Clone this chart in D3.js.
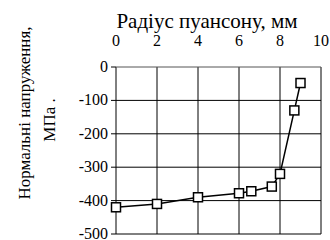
<!DOCTYPE html>
<html><head><meta charset="utf-8"><script src="https://cdn.jsdelivr.net/npm/d3@7"></script></head>
<body style="margin:0">
<script>
// punch radius, mm
const radius = [0, 2, 4, 6, 6.6, 7.6, 8, 8.7, 9];
// normal stress, MPa
const stress = [-420, -410, -390, -378, -372, -358, -320, -130, -48];
const xTicks = [0, 2, 4, 6, 8, 10];
const yTicks = [0, -100, -200, -300, -400, -500];

const width = 330, height = 240;
const margin = { top: 67, right: 9, bottom: 6, left: 116 };

const svg = d3.select('body').append('svg')
  .attr('width', width)
  .attr('height', height)
  .style('font-family', 'serif');

const x = d3.scaleLinear().domain([0, 10]).range([margin.left, width - margin.right]);
const y = d3.scaleLinear().domain([0, -500]).range([margin.top, height - margin.bottom]);

// grid
svg.append('g').selectAll('line')
  .data(xTicks)
  .join('line')
  .attr('x1', d => x(d)).attr('x2', d => x(d))
  .attr('y1', y(0)).attr('y2', y(-500))
  .attr('stroke', '#000').attr('stroke-width', 1);

svg.append('g').selectAll('line')
  .data(yTicks)
  .join('line')
  .attr('x1', x(0)).attr('x2', x(10))
  .attr('y1', d => y(d)).attr('y2', d => y(d))
  .attr('stroke', d => d === 0 ? '#555' : '#000').attr('stroke-width', 1);

// left axis ticks (outward)
svg.append('g').selectAll('line')
  .data(yTicks)
  .join('line')
  .attr('x1', x(0) - 5).attr('x2', x(0))
  .attr('y1', d => y(d)).attr('y2', d => y(d))
  .attr('stroke', '#000');

svg.append('g').selectAll('text')
  .data(yTicks)
  .join('text')
  .attr('x', x(0) - 8)
  .attr('y', d => y(d) + 5)
  .attr('text-anchor', 'end')
  .attr('font-size', 16)
  .style('font-family', d => 'serif')
  .text(d => d === 0 ? '0' : '-' + Math.abs(d));

// top tick labels
svg.append('g').selectAll('text')
  .data(xTicks)
  .join('text')
  .attr('x', d => x(d))
  .attr('y', 46)
  .attr('text-anchor', 'middle')
  .attr('font-size', 16)
  .style('font-family', d => 'serif')
  .text(d => d);

// titles
svg.append('text')
  .attr('x', 207).attr('y', 28)
  .attr('text-anchor', 'middle')
  .attr('font-size', 21)
  .style('font-family', 'serif')
  .text('Радіус пуансону, мм');

svg.append('text')
  .attr('transform', 'translate(30,113) rotate(-90)')
  .attr('text-anchor', 'middle')
  .attr('font-size', 17)
  .style('font-family', 'serif')
  .text('Нормальні напруження,');

svg.append('text')
  .attr('transform', 'translate(55,120) rotate(-90)')
  .attr('text-anchor', 'middle')
  .attr('font-size', 17)
  .style('font-family', 'serif')
  .text('МПа  .');

// series
const pts = radius.map((r, i) => [r, stress[i]]);

svg.append('path')
  .datum(pts)
  .attr('fill', 'none')
  .attr('stroke', '#000')
  .attr('stroke-width', 1.5)
  .attr('d', d3.line().x(d => x(d[0])).y(d => y(d[1])));

svg.append('g').selectAll('rect')
  .data(pts)
  .join('rect')
  .attr('x', d => x(d[0]) - 4.5)
  .attr('y', d => y(d[1]) - 4.5)
  .attr('width', 9).attr('height', 9)
  .attr('fill', '#fff')
  .attr('stroke', '#000')
  .attr('stroke-width', 1.5);
</script>
</body></html>
